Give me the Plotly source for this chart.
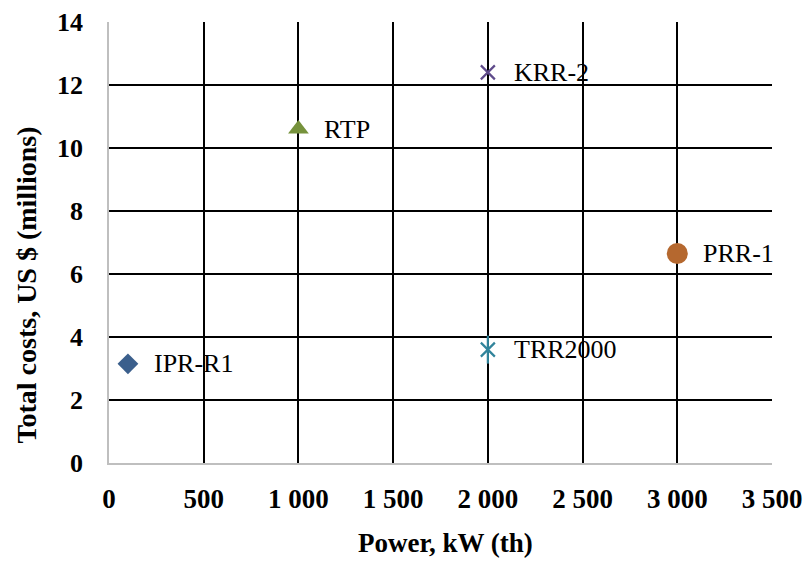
import plotly.graph_objects as go

# Reactor data: thermal power vs. total cost
names = ["IPR-R1", "RTP", "KRR-2", "TRR2000", "PRR-1"]
power_kw = [100, 1000, 2000, 2000, 3000]
cost_musd = [3.15, 10.6, 12.4, 3.6, 6.65]
symbols = ["diamond", "triangle-up", "x-thin-open", "x-thin-open", "circle"]
colors = ["#3b5f8c", "#76923c", "#5f4b8b", "#31849b", "#b5682f"]
sizes = [16, 18, 14, 14, 21]

x_ticks = [0, 500, 1000, 1500, 2000, 2500, 3000, 3500]
x_tick_text = ["0", "500", "1 000", "1 500", "2 000", "2 500", "3 000", "3 500"]
y_ticks = [0, 2, 4, 6, 8, 10, 12, 14]

FONT = "Liberation Serif, Times New Roman, serif"

fig = go.Figure()
for n, xv, yv, s, c, sz in zip(names, power_kw, cost_musd, symbols, colors, sizes):
    open_sym = s.endswith("open")
    fig.add_trace(go.Scatter(
        x=[xv], y=[yv], mode="markers", name=n,
        marker=dict(symbol=s, size=sz, color=c,
                    line=dict(color=c, width=2.2 if open_sym else 0)),
        cliponaxis=False,
    ))
    # the TRR2000 marker is a star: an x with a vertical stroke
    if n == "TRR2000":
        fig.add_trace(go.Scatter(
            x=[xv], y=[yv], mode="markers", name=n + " star",
            marker=dict(symbol="line-ns-open", size=20, color=c,
                        line=dict(color=c, width=2.2)),
            cliponaxis=False,
        ))
    fig.add_annotation(x=xv, y=yv, text=n, showarrow=False, xanchor="left",
                       xshift=24, yshift=0,
                       font=dict(family=FONT, size=26, color="#000000"))

# axis titles placed as paper-anchored annotations
fig.add_annotation(xref="paper", yref="paper", x=0.507, y=-0.182,
                   xanchor="center", yanchor="middle", showarrow=False,
                   text="<b>Power, kW (th)</b>",
                   font=dict(family=FONT, size=27, color="#000000"))
fig.add_annotation(xref="paper", yref="paper", x=-0.124, y=0.404,
                   xanchor="center", yanchor="middle", showarrow=False,
                   textangle=-90, text="<b>Total costs, US $ (millions)</b>",
                   font=dict(family=FONT, size=28, color="#000000"))

fig.update_layout(
    width=803, height=563,
    margin=dict(l=109, r=31, t=22, b=100),
    paper_bgcolor="white", plot_bgcolor="white",
    showlegend=False,
    font=dict(family=FONT, color="#000000"),
    xaxis=dict(
        range=[0, 3500], tickvals=x_ticks, ticktext=x_tick_text,
        automargin=False,
        showgrid=True, gridcolor="#000000", gridwidth=1.5,
        showline=True, linecolor="#bfbfbf", linewidth=1.5,
        zeroline=False, ticks="", ticklabelstandoff=11,
        tickfont=dict(family=FONT, size=27, color="#000000", weight="bold"),
    ),
    yaxis=dict(
        range=[0, 14], tickvals=y_ticks,
        automargin=False,
        showgrid=True, gridcolor="#000000", gridwidth=1.5,
        showline=True, linecolor="#bfbfbf", linewidth=1.5,
        zeroline=False, ticks="", ticklabelstandoff=19,
        tickfont=dict(family=FONT, size=26, color="#000000", weight="bold"),
    ),
)

fig.write_html("out.html")
